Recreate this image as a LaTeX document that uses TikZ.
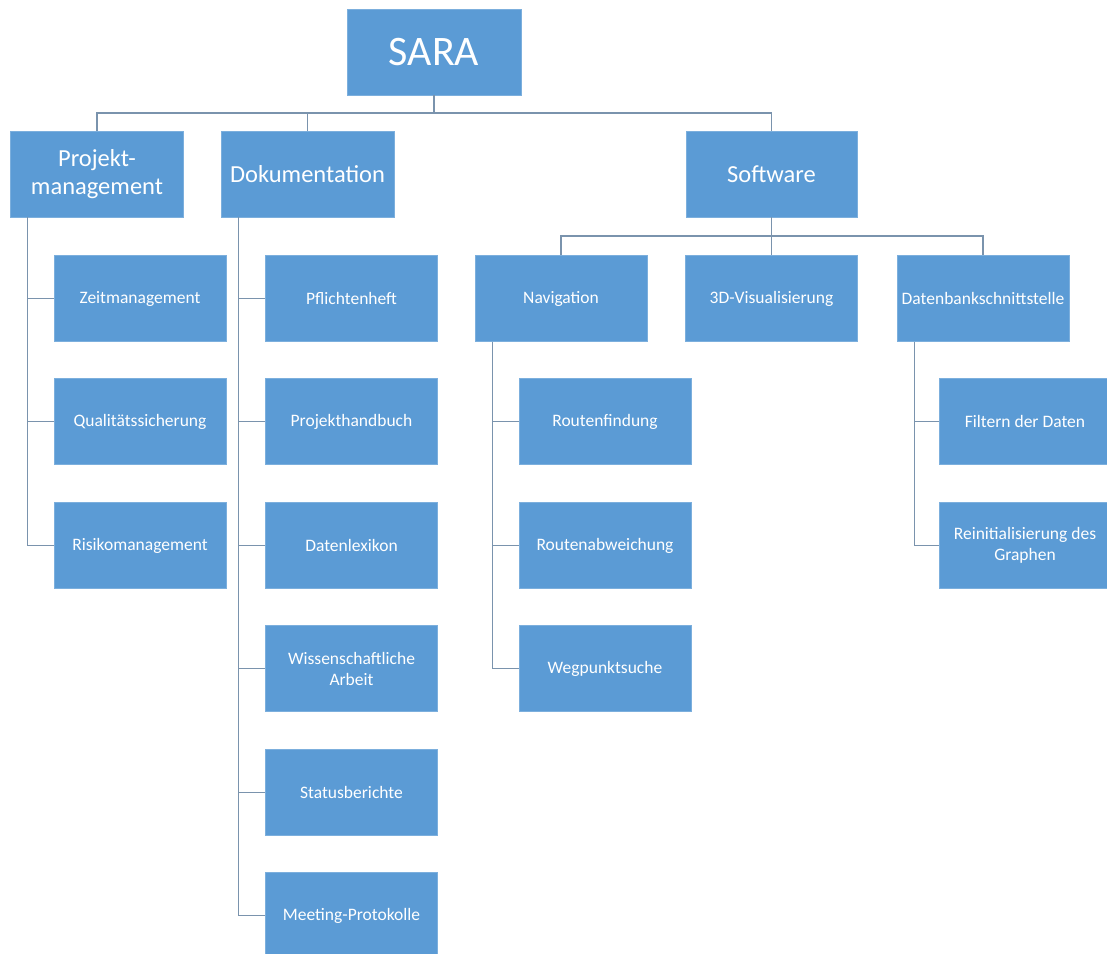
\documentclass[tikz,border=0pt]{standalone}
\usepackage{fontspec}
\setmainfont{Carlito}
\definecolor{boxblue}{HTML}{5B9BD5}
\definecolor{linecol}{HTML}{7A93AD}
\begin{document}
\begin{tikzpicture}[x=1pt,y=-1pt,
  box/.style={fill=boxblue, draw=boxblue!80!white, line width=0.6pt, text=white, align=center,
    minimum height=86pt, inner sep=2pt, font=\fontsize{17.5}{21}\selectfont},
  top/.style={box, minimum width=174pt, font=\fontsize{42}{46}\selectfont},
  lvla/.style={box, minimum width=173pt, font=\fontsize{24.5}{28}\selectfont},
  lvlb/.style={box, minimum width=172pt},
  conn/.style={draw=linecol, line width=1.4pt}]
\useasboundingbox (0,0) rectangle (1107,953);
\fill[white] (0,0) rectangle (1107,953);
\clip (0,0) rectangle (1107,953);
% top
\node[top] (sara) at (434,52) {SARA};
% level 1
\node[lvla] (pm) at (97,174) {Projekt-\\management};
\node[lvla] (dok) at (307.5,174) {Dokumentation};
\node[lvla, minimum width=171pt] (sw) at (771.5,174) {Software};
% Projektmanagement children
\node[lvlb] (zeit) at (140,298.5) {Zeitmanagement};
\node[lvlb] (qual) at (140,421.5) {Qualitätssicherung};
\node[lvlb] (risk) at (140,545.5) {Risikomanagement};
% Dokumentation children
\node[lvlb] (pfl) at (351.5,298.5) {Pflichtenheft};
\node[lvlb] (phb) at (351.5,421.5) {Projekthandbuch};
\node[lvlb] (dlx) at (351.5,545.5) {Datenlexikon};
\node[lvlb] (wis) at (351.5,668.5) {Wissenschaftliche\\Arbeit};
\node[lvlb] (stat) at (351.5,792.5) {Statusberichte};
\node[lvlb] (meet) at (351.5,915.5) {Meeting-Protokolle};
% Software children
\node[lvlb] (nav) at (561,298.5) {Navigation};
\node[lvlb] (vis) at (771.5,298.5) {3D-Visualisierung};
\node[lvlb] (db) at (983,298.5) {Datenbankschnittstelle};
% Navigation children
\node[lvlb] (rf) at (605,421.5) {Routenfindung};
\node[lvlb] (ra) at (605,545.5) {Routenabweichung};
\node[lvlb] (wp) at (605,668.5) {Wegpunktsuche};
% Datenbank children
\node[lvlb] (fil) at (1025,421.5) {Filtern der Daten};
\node[lvlb] (rei) at (1025,545.5) {Reinitialisierung des\\Graphen};
% connectors level 0 -> 1
\coordinate (busa) at (434,113);
\draw[conn] (sara.south) -- (busa);
\draw[conn] (pm.north) |- (busa) -| (sw.north);
\draw[conn] (dok.north) -- (dok.north |- busa);
% software -> children
\coordinate (busb) at (771.5,236);
\draw[conn] (sw.south) -- (vis.north);
\draw[conn] (nav.north) |- (busb) -| (db.north);
% trunks
\foreach \prnt/\kids in {pm/{zeit,qual,risk}, dok/{pfl,phb,dlx,wis,stat,meet}, nav/{rf,ra,wp}, db/{fil,rei}} {
  \foreach \k in \kids {
    \draw[conn] ([xshift=17.5pt]\prnt.south west) |- (\k.west);
  }
}
\end{tikzpicture}
\end{document}
